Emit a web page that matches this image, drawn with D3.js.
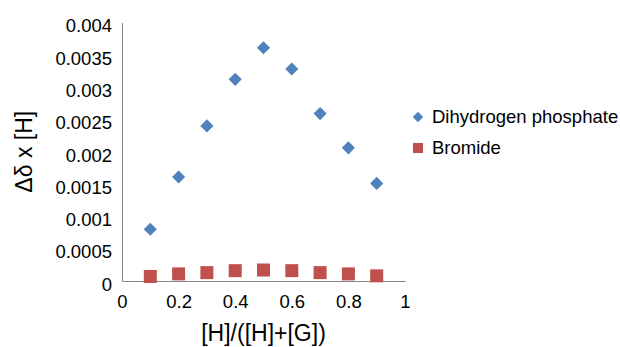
<!DOCTYPE html>
<html>
<head>
<meta charset="utf-8">
<script src="https://cdn.jsdelivr.net/npm/d3@7"></script>
<style>
  body { margin: 0; background: #fff; }
  svg text { font-family: "Liberation Sans", Arial, sans-serif; fill: #000; }
</style>
</head>
<body>
<div id="chart"></div>
<script>
const ratio = [0.1, 0.2, 0.3, 0.4, 0.5, 0.6, 0.7, 0.8, 0.9]
const phosphate = [0.00080, 0.00161, 0.00240, 0.00312, 0.00361, 0.00328, 0.00259, 0.00206, 0.00151]
const bromide = [0.00007, 0.00011, 0.00013, 0.00016, 0.00017, 0.00016, 0.00013, 0.00011, 0.00008]
const xTicks = [0, 0.2, 0.4, 0.6, 0.8, 1]
const yTicks = [0, 0.0005, 0.001, 0.0015, 0.002, 0.0025, 0.003, 0.0035, 0.004]
const seriesNames = ["Dihydrogen phosphate", "Bromide"]
const colors = ["#4f81bd", "#c0504d"]

const width = 620, height = 347
const margin = {top: 22.5, left: 122, right: 215, bottom: 66}

const svg = d3.select("#chart")
	.append("svg")
	.attr("width", width)
	.attr("height", height)

const x = d3.scaleLinear().domain([0, 1]).range([margin.left, width - margin.right])
const y = d3.scaleLinear().domain([0, 0.004]).range([height - margin.bottom, margin.top])

// axes, no tick marks, grey lines like excel
const xAxis = svg.append("g")
	.attr("transform", `translate(0,${y(0)})`)
	.call(d3.axisBottom(x).tickValues(xTicks).tickSize(0).tickPadding(14)
		.tickFormat(d => d3.format("~g")(d)))
xAxis.select(".domain").attr("stroke", "#868686")
xAxis.selectAll("text").style("font-size", "18.5px")

const yAxis = svg.append("g")
	.attr("transform", `translate(${x(0)},0)`)
	.call(d3.axisLeft(y).tickValues(yTicks).tickSize(0).tickPadding(10)
		.tickFormat(d => d === 0 ? "0" : String(+d.toFixed(4))))
yAxis.select(".domain").attr("stroke", "#868686")
yAxis.selectAll("text").style("font-size", "18.5px").attr("dy", "0.5em")

// points
const diamond = d3.symbol().type(d3.symbolDiamond2).size(110)

svg.append("g").selectAll("path")
	.data(ratio)
	.enter()
	.append("path")
		.attr("d", diamond)
		.attr("transform", (d, i) => `translate(${x(d)},${y(phosphate[i])})`)
		.attr("fill", colors[0])

const sq = 13
svg.append("g").selectAll("rect")
	.data(ratio)
	.enter()
	.append("rect")
		.attr("x", d => x(d) - sq / 2)
		.attr("y", (d, i) => y(bromide[i]) - sq / 2)
		.attr("width", sq)
		.attr("height", sq)
		.attr("fill", colors[1])

// axis titles
svg.append("text")
	.attr("x", (x(0) + x(1)) / 2)
	.attr("y", 341)
	.attr("text-anchor", "middle")
	.style("font-size", "23px")
	.text("[H]/([H]+[G])")

svg.append("text")
	.attr("transform", `translate(32,${(y(0) + y(0.004)) / 2}) rotate(-90)`)
	.attr("text-anchor", "middle")
	.style("font-size", "23px")
	.text("Δδ x [H]")

// legend
const legend = svg.append("g")
legend.append("path")
	.attr("d", d3.symbol().type(d3.symbolDiamond2).size(70))
	.attr("transform", "translate(418,117)")
	.attr("fill", colors[0])
legend.append("rect")
	.attr("x", 413).attr("y", 143)
	.attr("width", 10).attr("height", 10)
	.attr("fill", colors[1])
legend.selectAll("text")
	.data(seriesNames)
	.enter()
	.append("text")
		.attr("x", 432)
		.attr("y", (d, i) => 117 + i * 31)
		.attr("dy", "0.35em")
		.style("font-size", "18.5px")
		.text(d => d)
</script>
</body>
</html>
